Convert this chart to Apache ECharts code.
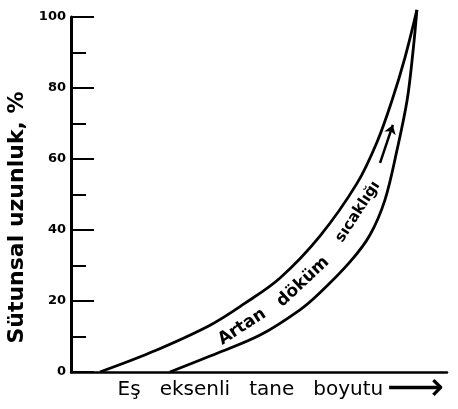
<!DOCTYPE html>
<html>
<head>
<meta charset="utf-8">
<script src="https://cdn.jsdelivr.net/npm/echarts@6/dist/echarts.min.js"></script>
<style>
  html, body { margin: 0; background: #fff; }
  #main { width: 458px; height: 409px; }
</style>
</head>
<body>
<div id="main"></div>
<script>
// x: eş eksenli tane boyutu (göreli, 0-100), y: sütunsal uzunluk %
var outerCurve = [[7.7, 0], [21.0, 5.4], [37.0, 13.2], [46.3, 19.4], [55.6, 26.5], [66.2, 38.3], [76.1, 53.2], [81.4, 64.8], [85.4, 76.6], [88.8, 88.5], [92.0, 102.0]]
var innerCurve = [[26.3, 0], [37.0, 4.5], [50.3, 10.4], [60.9, 17.5], [66.2, 22.3], [74.2, 31.0], [79.5, 38.6], [83.5, 48.5], [86.7, 62.5], [89.4, 76.6], [91.0, 90.7], [92.0, 102.0]]
var yTicks = [0, 20, 40, 60, 80, 100]
var bandWords = ['Artan', 'döküm', 'sıcaklığı']
var bandWordPos = [[45.5, 12.7], [61.7, 25.4], [76.3, 45.1]]
var bandWordAngle = [33, 43, 57]
var arrowFrom = [82.2, 58.9]
var arrowTo = [85.6, 69.6]

var font = 'DejaVu Sans'

var chart = echarts.init(document.getElementById('main'))

var option = {
  animation: false,
  grid: {
    left: 71,
    right: 11,
    top: 17,
    bottom: 37,
    outerBoundsMode: 'none',
    containLabel: false
  },
  xAxis: {
    type: 'value',
    min: 0,
    max: 100,
    name: '{t|Eş   eksenli   tane   boyutu} {a|⟶}',
    nameLocation: 'middle',
    nameGap: 7,
    nameTextStyle: {
      color: '#000',
      fontFamily: font,
      padding: [0, 0, 0, 44],
      rich: {
        t: { fontSize: 20, fontFamily: font, color: '#000', lineHeight: 22 },
        a: { fontSize: 40, fontFamily: font, color: '#000', lineHeight: 22 }
      }
    },
    axisLine: { lineStyle: { color: '#000', width: 2.5 } },
    axisTick: { show: false },
    axisLabel: { show: false },
    splitLine: { show: false }
  },
  yAxis: {
    type: 'value',
    min: 0,
    max: 100,
    interval: 20,
    name: 'Sütunsal uzunluk, %',
    nameLocation: 'middle',
    nameRotate: 90,
    nameGap: 30,
    nameTextStyle: {
      color: '#000',
      fontFamily: font,
      fontWeight: 'bold',
      fontSize: 22,
      padding: [0, 46, 0, 0]
    },
    axisLine: { show: true, lineStyle: { color: '#000', width: 3 } },
    axisTick: {
      show: true,
      inside: true,
      length: 23,
      lineStyle: { color: '#000', width: 2 }
    },
    minorTick: {
      show: true,
      splitNumber: 2,
      length: 15,
      lineStyle: { color: '#000', width: 2 }
    },
    axisLabel: {
      color: '#000',
      fontFamily: font,
      fontWeight: 'bold',
      fontSize: 13,
      margin: 5,
      formatter: function (v) {
        return yTicks.indexOf(v) >= 0 ? String(v) : ''
      }
    },
    splitLine: { show: false }
  },
  series: [
    {
      type: 'line',
      data: outerCurve,
      smooth: 0.35,
      clip: false,
      showSymbol: false,
      lineStyle: { color: '#000', width: 2.8 }
    },
    {
      type: 'line',
      data: innerCurve,
      smooth: 0.35,
      clip: false,
      showSymbol: false,
      lineStyle: { color: '#000', width: 2.8 }
    },
    {
      type: 'lines',
      coordinateSystem: 'cartesian2d',
      symbol: ['none', 'arrow'],
      symbolSize: 9,
      lineStyle: { color: '#000', width: 2.5, opacity: 1 },
      data: [{ coords: [arrowFrom, arrowTo] }]
    },
    {
      type: 'scatter',
      symbolSize: 0,
      silent: true,
      itemStyle: { opacity: 1, color: '#000' },
      data: bandWords.map(function (w, i) {
        return {
          name: w,
          value: bandWordPos[i],
          label: {
            rotate: bandWordAngle[i],
            fontSize: i === 2 ? 15 : 17
          }
        }
      }),
      label: {
        show: true,
        position: 'inside',
        formatter: '{b}',
        color: '#000',
        opacity: 1,
        fontWeight: 'bold',
        fontFamily: font
      }
    }
  ]
}

chart.setOption(option)
</script>
</body>
</html>
